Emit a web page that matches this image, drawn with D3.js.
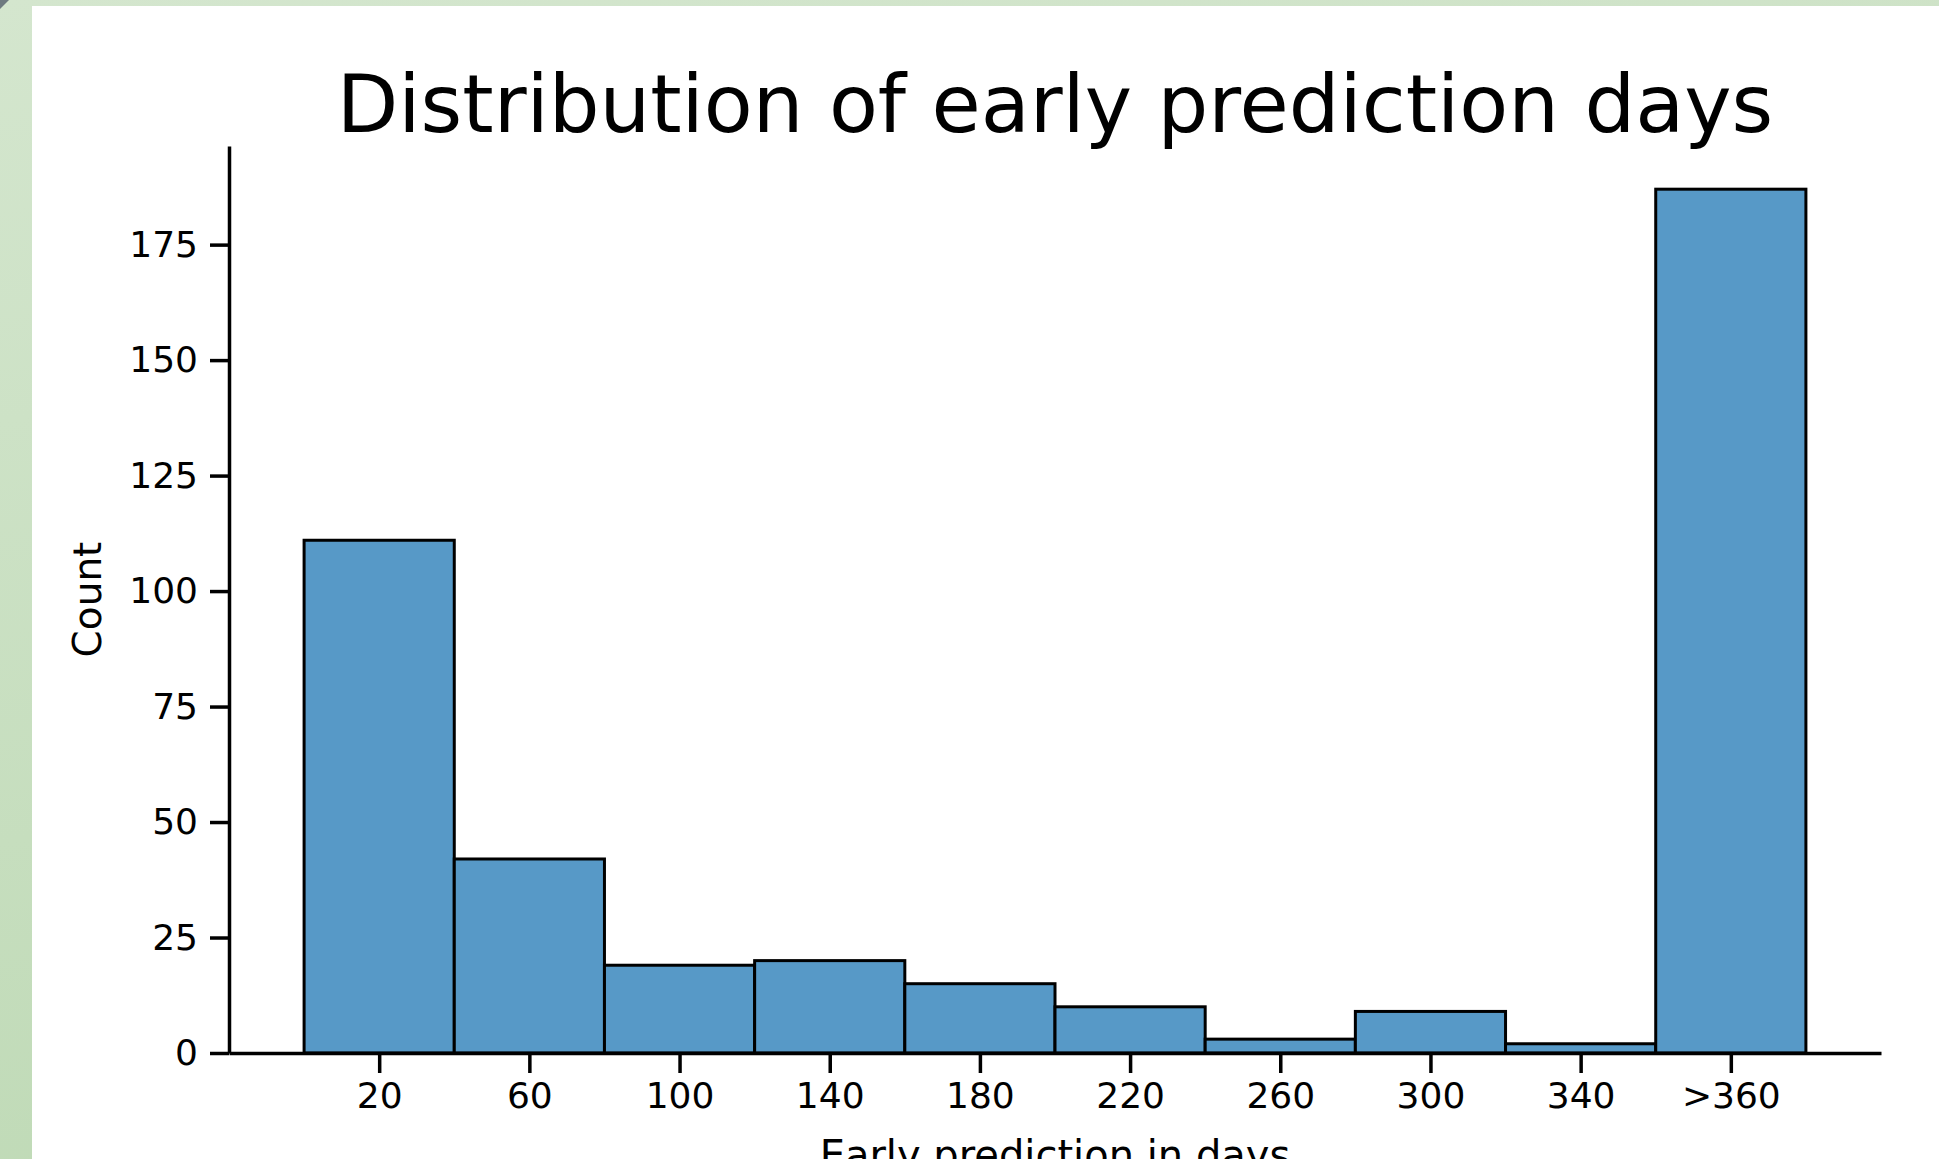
<!DOCTYPE html>
<html>
<head>
<meta charset="utf-8">
<script src="https://cdn.jsdelivr.net/npm/d3@7"></script>
<style>
  html, body { margin: 0; padding: 0; overflow: hidden; }
  text { font-family: "DejaVu Sans", sans-serif; fill: #000; }
</style>
</head>
<body>
<svg id="chart"></svg>
<script>
/* histogram data: bin starts (days), counts per bin, tick labels */
var binStarts = [0, 40, 80, 120, 160, 200, 240, 280, 320, 360];
var binWidth = 40;
var counts = [111, 42, 19, 20, 15, 10, 3, 9, 2, 187];
var xTickValues = [20, 60, 100, 140, 180, 220, 260, 300, 340, 380];
var xTickLabels = ["20", "60", "100", "140", "180", "220", "260", "300", "340", ">360"];
var yTickValues = [0, 25, 50, 75, 100, 125, 150, 175];

var W = 1939, H = 1159;

var svg = d3.select("#chart")
    .attr("width", W)
    .attr("height", H);

/* greenish backdrop behind the white figure panel */
var defs = svg.append("defs");
var grad = defs.append("linearGradient")
    .attr("id", "bg")
    .attr("x1", 0).attr("y1", 0).attr("x2", 0.3).attr("y2", 1);
grad.append("stop").attr("offset", "0%").attr("stop-color", "#d4e6ce");
grad.append("stop").attr("offset", "100%").attr("stop-color", "#bfdab6");

svg.append("rect")
    .attr("width", W).attr("height", H)
    .attr("fill", "url(#bg)");
svg.append("path")
    .attr("d", "M0,0 L9,0 L0,9 Z")
    .attr("fill", "#6e7a80");
svg.append("rect")
    .attr("x", 32).attr("y", 6)
    .attr("width", W - 32).attr("height", H - 6)
    .attr("fill", "#fff");

/* plot area */
var margin = {top: 146, left: 229, right: 1881, bottom: 1053};

var x = d3.scaleLinear()
    .domain([-20, 420])
    .range([margin.left, margin.right]);

var y = d3.scaleLinear()
    .domain([0, d3.max(counts) * 1.05])
    .range([margin.bottom, margin.top]);

var bins = binStarts.map(function(s, i) { return {x0: s, x1: s + binWidth, n: counts[i]}; });

svg.append("g")
    .selectAll("rect")
    .data(bins)
    .enter().append("rect")
      .attr("x", function(d) { return x(d.x0); })
      .attr("y", function(d) { return y(d.n); })
      .attr("width", function(d) { return x(d.x1) - x(d.x0); })
      .attr("height", function(d) { return y(0) - y(d.n); })
      .attr("fill", "#5799c7")
      .attr("stroke", "#000")
      .attr("stroke-width", 3);

/* axes */
var xAxis = svg.append("g")
    .attr("transform", "translate(0," + margin.bottom + ")")
    .call(d3.axisBottom(x)
      .tickValues(xTickValues)
      .tickFormat(function(d, i) { return xTickLabels[i]; })
      .tickSize(20)
      .tickSizeOuter(0)
      .tickPadding(9));

var yAxis = svg.append("g")
    .attr("transform", "translate(" + margin.left + ",0)")
    .call(d3.axisLeft(y)
      .tickValues(yTickValues)
      .tickSize(19)
      .tickSizeOuter(0)
      .tickPadding(12));

[xAxis, yAxis].forEach(function(a) {
  a.select(".domain").attr("stroke", "#000").attr("stroke-width", 3.5);
  a.selectAll(".tick line").attr("stroke", "#000").attr("stroke-width", 3.5);
  a.selectAll(".tick text")
      .style("font-family", "'DejaVu Sans', sans-serif")
      .style("font-size", "36px")
      .attr("fill", "#000");
});

/* title and axis labels */
svg.append("text")
    .attr("x", (margin.left + margin.right) / 2)
    .attr("y", 132)
    .attr("text-anchor", "middle")
    .style("font-size", "80px")
    .text("Distribution of early prediction days");

svg.append("text")
    .attr("transform", "translate(101," + (margin.top + margin.bottom) / 2 + ") rotate(-90)")
    .attr("text-anchor", "middle")
    .style("font-size", "39px")
    .text("Count");

/* the reference crops this label at the bottom edge */
svg.append("text")
    .attr("x", (margin.left + margin.right) / 2)
    .attr("y", 1169)
    .attr("text-anchor", "middle")
    .style("font-size", "40px")
    .text("Early prediction in days");
</script>
</body>
</html>
